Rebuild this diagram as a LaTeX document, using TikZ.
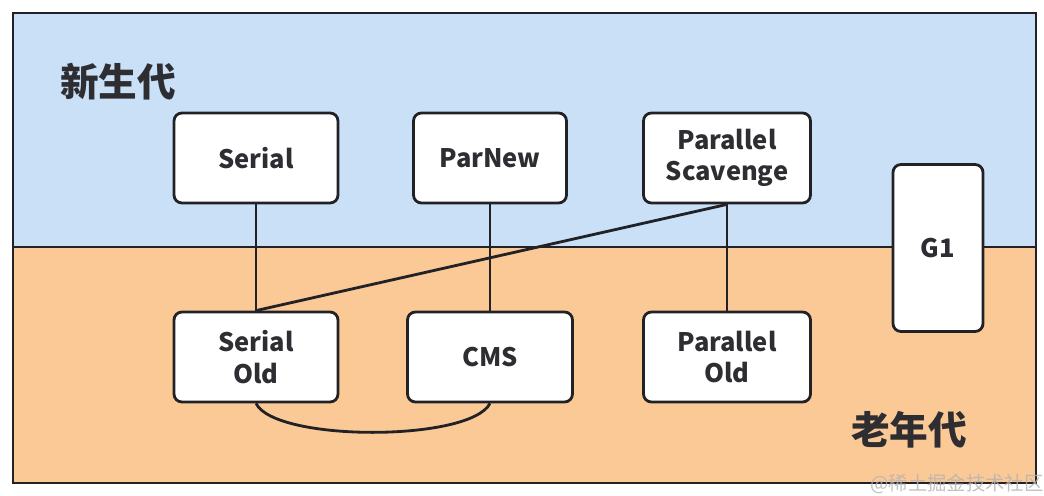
\documentclass[tikz,border=0pt]{standalone}
\usepackage{fontspec}
\setmainfont{Noto Sans CJK SC}
\definecolor{younggen}{RGB}{201,224,247}
\definecolor{oldgen}{RGB}{250,201,150}
\definecolor{inkline}{RGB}{34,34,38}
\definecolor{inktext}{RGB}{45,45,50}
\tikzset{
	gcbox/.style={draw=inkline, line width=1.6pt, fill=white, rounded corners=4.5pt,
		minimum width=3.28cm, minimum height=1.8cm, inner sep=0pt, align=center,
		text=inktext, font=\fontsize{14.5}{18}\selectfont\bfseries},
	gclink/.style={draw=inkline, line width=1.6pt},
	genlabel/.style={text=inktext, font=\fontsize{22}{26}\selectfont\bfseries}
}
\begin{document}
\begin{tikzpicture}[x=0.02cm, y=-0.02cm]
		\useasboundingbox (0,0) rectangle (1044,496);
		%Frame with the two generations
		\fill[younggen] (13,13) rectangle (1036,247);
		\fill[oldgen] (13,247) rectangle (1036,483);
		\draw[gclink] (13,247)--(1036,247);
		\draw[gclink] (13,13) rectangle (1036,483);
		\node[genlabel] (young) at (118,82) {新生代};
		\node[genlabel] (old) at (909,430) {老年代};
		%Collectors
		\node[gcbox] (serial) at (256,158) {Serial};
		\node[gcbox, minimum width=3.06cm] (parnew) at (490,158) {ParNew};
		\node[gcbox, minimum width=3.34cm] (scavenge) at (727,158) {Parallel\\Scavenge};
		\node[gcbox] (serialold) at (256,357) {Serial\\Old};
		\node[gcbox, minimum width=3.3cm] (cms) at (490,357) {CMS};
		\node[gcbox, minimum width=3.34cm] (parold) at (727,357) {Parallel\\Old};
		\node[gcbox, minimum width=1.8cm, minimum height=3.34cm] (gone) at (938,248) {G1};
		%Links between them
		\draw[gclink] (serial.south)--(serialold.north);
		\draw[gclink] (parnew.south)--(cms.north);
		\draw[gclink] (scavenge.south)--(parold.north);
		\draw[gclink] (scavenge.south)--(serialold.north);
		\draw[gclink] (serialold.south) .. controls (275,442) and (470,442) .. (cms.south);
		\node[text=black!30, font=\fontsize{11}{13}\selectfont, opacity=0.8] (mark) at (957,484) {@稀土掘金技术社区};
\end{tikzpicture}
\end{document}
